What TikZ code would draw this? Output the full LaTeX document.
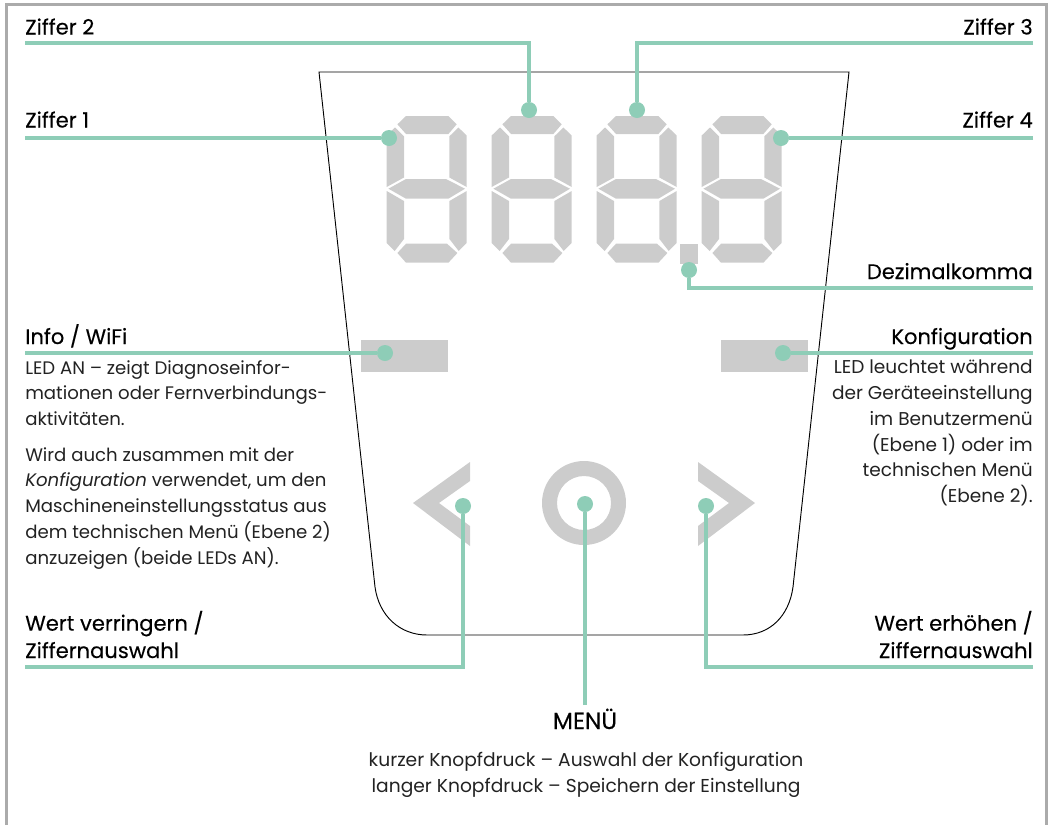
\documentclass[tikz,border=0pt]{standalone}
\usepackage{fontspec}
\setmainfont{Poppins}
\newfontfamily\headfont[FakeBold=0.25]{Poppins}
\definecolor{grn}{HTML}{8ECDB7}
\definecolor{seg}{HTML}{CCCCCC}
\definecolor{frm}{HTML}{ABABAB}
\definecolor{txt}{HTML}{222222}
\tikzset{
  leader/.style={draw=grn,line width=3pt},
  dotn/.style={circle,fill=grn,inner sep=0pt,minimum size=12pt},
  headl/.style={font=\headfont\fontsize{15.8}{20.5}\selectfont,text=black,inner sep=0pt},
  body/.style={font=\fontsize{13.6}{19.3}\selectfont,text=txt,inner sep=0pt},
}
\newcommand{\digitat}[1]{%
\begin{scope}[shift={(#1,116)}]
\fill[seg] (10.7,8.3)--(19.3,0)--(61.7,0)--(70,8.3)--(61.7,18)--(19.3,18)--cycle;
\fill[seg] (8.3,11.5)--(0,19.5)--(0,71)--(17.3,61.5)--(17.3,20.3)--cycle;
\fill[seg] (71.7,11.5)--(80,19.5)--(80,71)--(62.7,61.5)--(62.7,20.3)--cycle;
\fill[seg] (1.7,72.7)--(19.3,63)--(59.3,63)--(78.3,72.7)--(61.7,82.7)--(19.3,82.7)--cycle;
\fill[seg] (0,75)--(17.3,85)--(17.3,123)--(8,135)--(0,127)--cycle;
\fill[seg] (80,75)--(62.7,85)--(62.7,123)--(72,135)--(80,127)--cycle;
\fill[seg] (10.7,137)--(19.3,127.7)--(60.3,127.7)--(70.7,137)--(61.7,146.7)--(19.3,146.7)--cycle;
\end{scope}}
\begin{document}
\begin{tikzpicture}[x=0.75pt,y=-0.75pt]
\useasboundingbox (0,0) rectangle (1053,825);
\draw[frm,line width=2.25pt] (6.5,825)--(6.5,4.5)--(1046.5,4.5)--(1046.5,825);
% housing
\draw[black,line width=0.7pt] (319,72)--(849,72)--(793,587) .. controls (789,616) and (770,635) .. (743,635)--(427,635) .. controls (400,635) and (379,616) .. (375,587)--cycle;
% digits
\digitat{386.7}\digitat{491.7}\digitat{596.7}\digitat{701.7}
\fill[seg] (680,244) rectangle (698,264);
\fill[seg] (361,340) rectangle (448,372);
\fill[seg] (721,340) rectangle (808,372);
\fill[seg] (413,503)--(470,462)--(470,481)--(439,503)--(470,526)--(470,546)--cycle;
\fill[seg] (755,503)--(698,462)--(698,481)--(729,503)--(698,526)--(698,546)--cycle;
\fill[seg,even odd rule] (584,503) circle [radius=31.5pt] (584,503) circle [radius=20.25pt];
% labels
\node[headl,anchor=base west] (z1) at (25,34.5) {Ziffer 2};
\node[headl,anchor=base east] (z3) at (1033,34.5) {Ziffer 3};
\node[headl,anchor=base west] (z0) at (25,127.5) {Ziffer 1};
\node[headl,anchor=base east] (z4) at (1033,127.5) {Ziffer 4};
\node[headl,anchor=base east] (dk) at (1033,279) {Dezimalkomma};
\node[headl,anchor=base west] (iw) at (25,344) {Info / WiFi};
\node[headl,anchor=base east] (kf) at (1033,344) {Konfiguration};
\node[headl,anchor=base west,align=left] (wv) at (25,658) {Wert verringern /\\Ziffernauswahl};
\node[headl,anchor=base east,align=right] (we) at (1033,658) {Wert erhöhen /\\Ziffernauswahl};
\node[headl,anchor=base,font=\headfont\fontsize{17.5}{20}\selectfont] (mn) at (585,729) {MENÜ};
\node[body,anchor=north,align=center,font=\fontsize{14}{19.3}\selectfont] (mt) at (586,752) {kurzer Knopfdruck – Auswahl der Konfiguration\\langer Knopfdruck – Speichern der Einstellung};
\node[body,anchor=north west,align=left] (il) at (25,360) {LED AN – zeigt Diagnoseinfor-\\mationen oder Fernverbindungs-\\aktivitäten.};
\node[body,anchor=north west,align=left] (i2) at (25,447) {Wird auch zusammen mit der\\\textit{Konfiguration} verwendet, um den\\Maschineneinstellungsstatus aus\\dem technischen Menü (Ebene 2)\\anzuzeigen (beide LEDs AN).};
\node[body,anchor=north east,align=right,font=\fontsize{13.9}{19.3}\selectfont] (kt) at (1033,360) {LED leuchtet während\\der Geräteeinstellung\\im Benutzermenü\\(Ebene 1) oder im\\technischen Menü\\(Ebene 2).};
% dots
\node[dotn] (d1) at (389,138) {};
\node[dotn] (d2) at (529,110) {};
\node[dotn] (d3) at (637,110) {};
\node[dotn] (d4) at (781,138) {};
\node[dotn] (dd) at (689,270) {};
\node[dotn] (dl) at (385,353) {};
\node[dotn] (dr) at (783,353) {};
\node[dotn] (da) at (463,506) {};
\node[dotn] (dm) at (585,504) {};
\node[dotn] (db) at (706,506) {};
\coordinate (e1) at (25,138); \coordinate (e2) at (25,43); \coordinate (e3) at (1033,43);
\coordinate (e4) at (1033,138); \coordinate (ed) at (1033,288); \coordinate (el) at (25,353);
\coordinate (er) at (1033,353); \coordinate (ea) at (25,667); \coordinate (eb) at (1033,667);
\coordinate (em) at (585,705);
\draw[leader] (e1)--(d1);
\draw[leader] (e2)-|(d2);
\draw[leader] (e3)-|(d3);
\draw[leader] (e4)--(d4);
\draw[leader] (ed)-|(dd);
\draw[leader] (el)--(dl);
\draw[leader] (er)--(dr);
\draw[leader] (ea)-|(da);
\draw[leader] (eb)-|(db);
\draw[leader] (em)--(dm);
\end{tikzpicture}
\end{document}
